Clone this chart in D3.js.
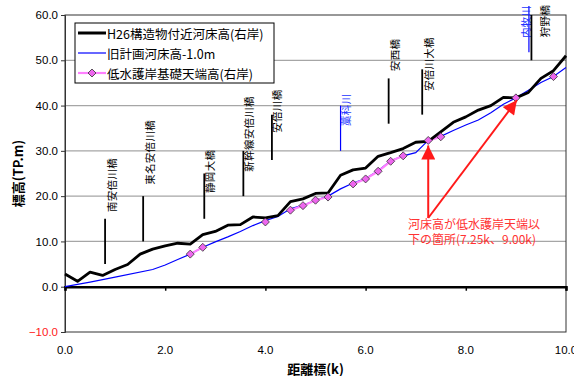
<!DOCTYPE html>
<html>
<head>
<meta charset="utf-8">
<script src="https://cdn.jsdelivr.net/npm/d3@7"></script>
<style>
body { margin: 0; background: #fff; }
text { font-family: "Liberation Sans", "Noto Sans CJK JP", sans-serif; }
.jp { font-family: "Noto Sans CJK JP", sans-serif; }
</style>
</head>
<body>
<div id="chart"></div>
<script>
// H26 bed level near structures (right bank)
var bedK = [0, 0.25, 0.5, 0.75, 1.0, 1.25, 1.5, 1.75, 2.0, 2.25, 2.5, 2.75, 3.0, 3.25, 3.5, 3.75,
            4.0, 4.25, 4.5, 4.75, 5.0, 5.25, 5.5, 5.75, 6.0, 6.25, 6.5, 6.75, 7.0, 7.25, 7.5, 7.75,
            8.0, 8.25, 8.5, 8.75, 9.0, 9.25, 9.5, 9.75, 10.0];
var bedZ = [2.8, 1.2, 3.2, 2.5, 3.8, 4.9, 7.2, 8.3, 9.0, 9.6, 9.4, 11.5, 12.2, 13.6, 13.7, 15.4,
            15.2, 15.7, 18.8, 19.4, 20.6, 20.7, 24.6, 25.8, 26.2, 28.8, 29.6, 30.5, 31.9, 32.1, 34.2, 36.3,
            37.5, 39.0, 40.0, 41.8, 41.7, 42.9, 46.0, 47.7, 51.0];

// old plan bed level -1.0m
var planK = [0, 0.5, 1.0, 1.75, 2.0, 2.25, 2.5, 2.75, 3.0, 3.25, 3.5, 3.75, 4.0, 4.25, 4.5, 4.75,
             5.0, 5.25, 5.5, 5.75, 6.0, 6.25, 6.5, 6.75, 7.0, 7.25, 7.5, 7.75, 8.0, 8.25, 8.5, 8.75,
             9.0, 9.25, 9.5, 9.75, 10.0];
var planZ = [0, 1.0, 2.1, 3.8, 4.8, 6.0, 7.2, 8.7, 9.9, 11.0, 12.2, 13.5, 14.6, 15.5, 17.2, 18.0,
             19.1, 20.0, 21.6, 22.9, 23.9, 25.6, 27.8, 28.9, 29.6, 32.3, 33.2, 34.5, 35.7, 36.8, 38.4, 40.3,
             41.7, 43.4, 45.1, 46.4, 48.4];

// low-water revetment foundation top (right bank), null = gap
var padK = [2.5, 2.75, 3.0, 4.0, 4.25, 4.5, 4.75, 5.0, 5.25, 5.5, 5.75, 6.0, 6.25, 6.5, 6.75,
            7.0, 7.25, 7.5, 7.75, 9.0, 9.25, 9.75];
var padZ = [7.2, 8.7, null, 14.3, null, 16.9, 17.9, 19.1, 19.8, null, 22.7, 23.8, 25.5, 27.7, 28.9,
            null, 32.3, 33.1, null, 41.7, null, 46.4];

// bridges / tributaries
var bridgeNames = ["南安倍川橋", "東名安倍川橋", "静岡大橋", "新幹線安倍川橋", "安倍川橋", "藁科川",
                   "安西橋", "安倍川大橋", "内牧川", "狩野橋"];
var bridgeK = [0.8, 1.56, 2.78, 3.56, 4.13, 5.5, 6.46, 7.13, 9.26, 9.31];
var bridgeLow = [5, 10, 15, 20, 28, 30, 36, 38, 51.8, 50];
var bridgeHigh = [15, 20, 25, 30, 38, 40, 46, 48, 62, 60];
var labelFrom = [16.5, 22.5, 20.7, 25.4, 34.0, 35.5, 47.6, 43.2, 54.9, 55.1];
var labelDx = [6, 6, 5, 5, 5, 5, 6, 6, -3, 13];
var bridgeBlue = [false, false, false, false, false, true, false, false, true, false];

var yTicks = [-10, 0, 10, 20, 30, 40, 50, 60];
var xTicks = [0, 2, 4, 6, 8, 10];
var seriesNames = ["H26構造物付近河床高(右岸)", "旧計画河床高-1.0m", "低水護岸基礎天端高(右岸)"];
var noteLines = ["河床高が低水護岸天端以", "下の箇所(7.25k、9.00k)"];
var noteK = [7.25, 9.0];

var W = 574, H = 376;
var x = d3.scaleLinear().domain([0, 10]).range([65, 566]);
var y = d3.scaleLinear().domain([-10, 60]).range([332, 15]);

var svg = d3.select("#chart").append("svg")
    .attr("width", W).attr("height", H);

// grid
svg.append("g").selectAll("line")
    .data(yTicks.filter(d => d > 0 && d < 60))
    .enter().append("line")
    .attr("x1", x(0)).attr("x2", x(10))
    .attr("y1", d => y(d)).attr("y2", d => y(d))
    .attr("stroke", "#a6a6a6").attr("stroke-width", 1.2);

// frame
svg.append("rect")
    .attr("x", x(0)).attr("y", y(60))
    .attr("width", x(10) - x(0)).attr("height", y(-10) - y(60))
    .attr("fill", "none").attr("stroke", "#333").attr("stroke-width", 1);

// y axis
var yAxis = svg.append("g")
    .attr("transform", "translate(" + x(0) + ",0)")
    .call(d3.axisLeft(y).tickValues(yTicks).tickSize(4).tickFormat(d3.format(".1f")));
yAxis.select(".domain").attr("stroke", "#333");
yAxis.selectAll("line").attr("stroke", "#333");
yAxis.selectAll("text")
    .attr("font-size", 11.5).attr("fill", d => d < 0 ? "#ff2020" : "#000");

// x axis on the zero line
var xAxis = svg.append("g")
    .attr("transform", "translate(0," + y(0) + ")")
    .call(d3.axisBottom(x).tickValues(xTicks).tickSize(4).tickFormat(""));
xAxis.select(".domain").attr("stroke", "#000").attr("stroke-width", 2.5);
xAxis.selectAll("line").attr("stroke", "#000").attr("stroke-width", 1.5);

svg.append("g").selectAll("text")
    .data(xTicks).enter().append("text")
    .attr("x", d => x(d)).attr("y", y(-10) + 22)
    .attr("text-anchor", "middle").attr("font-size", 11.5)
    .text(d => d3.format(".1f")(d));

// axis titles
svg.append("text").attr("class", "jp")
    .attr("transform", "translate(17," + y(25) + ") rotate(-90)")
    .attr("text-anchor", "middle").attr("dominant-baseline", "central")
    .attr("font-size", 13).attr("font-weight", "bold")
    .text("標高(TP.m)");
svg.append("text").attr("class", "jp")
    .attr("x", x(5)).attr("y", 368)
    .attr("text-anchor", "middle").attr("dominant-baseline", "central")
    .attr("font-size", 13).attr("font-weight", "bold")
    .text("距離標(k)");

// bridge markers
var br = svg.append("g");
bridgeNames.forEach(function (name, i) {
    var col = bridgeBlue[i] ? "#0000ff" : "#000";
    br.append("line")
        .attr("x1", x(bridgeK[i])).attr("x2", x(bridgeK[i]))
        .attr("y1", y(bridgeLow[i])).attr("y2", y(bridgeHigh[i]))
        .attr("stroke", col).attr("stroke-width", bridgeBlue[i] ? 1.2 : 1.8);
    br.append("text").attr("class", "jp")
        .attr("transform", "translate(" + (x(bridgeK[i]) + labelDx[i]) + "," + y(labelFrom[i]) + ") rotate(-90)")
        .attr("dominant-baseline", "central")
        .attr("font-size", 10.5).attr("letter-spacing", 0.3)
        .attr("fill", bridgeBlue[i] ? "#2233ff" : "#000")
        .text(name);
});

// series
var bedLine = d3.line().x(d => x(d[0])).y(d => y(d[1]));
svg.append("path")
    .datum(planK.map((k, i) => [k, planZ[i]]))
    .attr("d", bedLine)
    .attr("fill", "none").attr("stroke", "#0000ff").attr("stroke-width", 1.2);

var padLine = d3.line().defined(d => d[1] != null).x(d => x(d[0])).y(d => y(d[1]));
var padData = padK.map((k, i) => [k, padZ[i]]);
svg.append("path")
    .datum(padData)
    .attr("d", padLine)
    .attr("fill", "none").attr("stroke", "#ff80ff").attr("stroke-width", 2.2);

svg.append("path")
    .datum(bedK.map((k, i) => [k, bedZ[i]]))
    .attr("d", bedLine)
    .attr("fill", "none").attr("stroke", "#000").attr("stroke-width", 2.8)
    .attr("stroke-linejoin", "round");

// square diamond marker
var diamond = "M0,-4L4,0L0,4L-4,0Z";
svg.append("g").selectAll("path")
    .data(padData.filter(d => d[1] != null))
    .enter().append("path")
    .attr("d", diamond)
    .attr("transform", d => "translate(" + x(d[0]) + "," + y(d[1]) + ")")
    .attr("fill", "#ee66ee").attr("stroke", "#333").attr("stroke-width", 0.8);

// legend
var lg = svg.append("g");
lg.append("rect")
    .attr("x", 75).attr("y", 23).attr("width", 199).attr("height", 60)
    .attr("fill", "#fff").attr("stroke", "#000").attr("stroke-width", 1);
var lgColor = ["#000", "#0000ff", "#ff80ff"];
var lgWidth = [3, 1.2, 2.2];
seriesNames.forEach(function (name, i) {
    var ly = 33 + i * 20;
    lg.append("line")
        .attr("x1", 78).attr("x2", 106).attr("y1", ly).attr("y2", ly)
        .attr("stroke", lgColor[i]).attr("stroke-width", lgWidth[i]);
    if (i == 2) {
        lg.append("path").attr("d", diamond)
            .attr("transform", "translate(92," + ly + ")")
            .attr("fill", "#ee66ee").attr("stroke", "#333").attr("stroke-width", 0.8);
    }
    lg.append("text").attr("class", "jp")
        .attr("x", 107).attr("y", ly)
        .attr("dominant-baseline", "central")
        .attr("font-size", 12.5)
        .text(name);
});

// red note with arrows
var red = "#ff1a1a";
svg.append("defs").append("marker")
    .attr("id", "ah").attr("viewBox", "0 0 10 10")
    .attr("refX", 10).attr("refY", 5)
    .attr("markerWidth", 16).attr("markerHeight", 14)
    .attr("markerUnits", "userSpaceOnUse")
    .attr("orient", "auto")
    .append("path").attr("d", "M0,0L10,5L0,10Z").attr("fill", red);

var sx = x(7.25), sy = 218;
svg.append("line")
    .attr("x1", sx).attr("y1", sy).attr("x2", x(noteK[0])).attr("y2", y(31.2))
    .attr("stroke", red).attr("stroke-width", 2).attr("marker-end", "url(#ah)");
svg.append("line")
    .attr("x1", sx).attr("y1", sy).attr("x2", x(noteK[1]) + 1).attr("y2", y(41.2))
    .attr("stroke", red).attr("stroke-width", 2).attr("marker-end", "url(#ah)");

svg.append("g").selectAll("text")
    .data(noteLines).enter().append("text").attr("class", "jp")
    .attr("x", 408).attr("y", (d, i) => 223 + i * 15)
    .attr("dominant-baseline", "central")
    .attr("font-size", 12).attr("fill", "#ff3333")
    .text(d => d);
</script>
</body>
</html>
